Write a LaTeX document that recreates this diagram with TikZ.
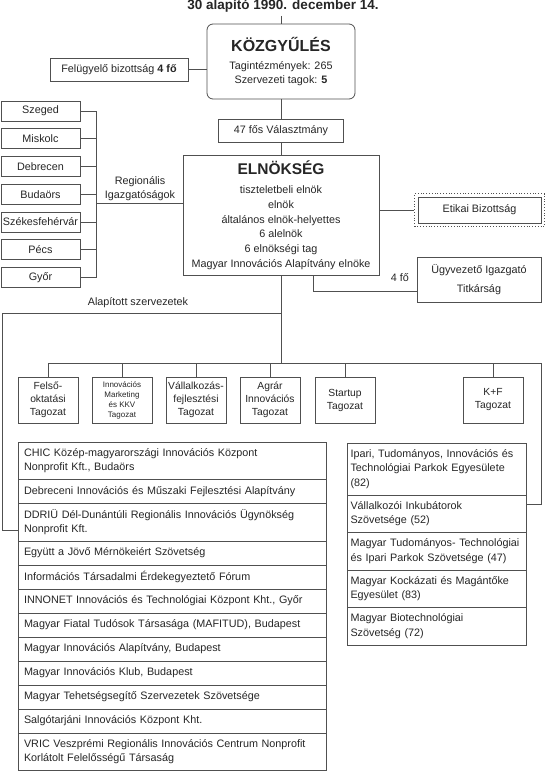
\documentclass[tikz,border=0pt]{standalone}
\usepackage{fontspec}
\setmainfont{Liberation Sans}
\usepackage{tikz}
\usetikzlibrary{positioning, fit}

\definecolor{linegray}{HTML}{505050}
\definecolor{textgray}{HTML}{262626}

\begin{document}
\begin{tikzpicture}[
    x=1pt, y=-1pt,
    every node/.style={text=textgray},
    box/.style={rectangle, draw=linegray, line width=0.8pt, fill=white, align=center, inner sep=1pt, font=\fontsize{10.8}{14.7}\selectfont},
    city/.style={box, minimum width=79pt, minimum height=20pt},
    tag/.style={box, minimum width=60pt, minimum height=46pt, font=\fontsize{10.3}{13}\selectfont},
    lrow/.style={rectangle, draw=linegray, line width=0.8pt, outer sep=0pt, align=left, inner xsep=6pt, inner ysep=0pt, text width=296pt, minimum height=24pt, font=\fontsize{10.8}{14.5}\selectfont},
    rrow/.style={lrow, inner xsep=3.5pt, text width=172pt},
    tall/.style={minimum height=37.5pt},
    conn/.style={draw=linegray, line width=0.8pt},
    lbl/.style={font=\fontsize{10.8}{14}\selectfont, align=center}
]
\useasboundingbox[fill=white] (0,0) rectangle (544,779);

% top
\node[font=\fontsize{13.5}{16}\selectfont\bfseries] (title) at (283,6) {30 alapító 1990. december 14.};
\node[box, rounded corners=6pt, minimum width=148pt, minimum height=75pt] (kozgy) at (281,61.5)
    {{\fontsize{16}{20}\selectfont\bfseries KÖZGYŰLÉS}\\[3.5pt]Tagintézmények: 265\\Szervezeti tagok: \textbf{5}};
\node[box, minimum width=138pt, minimum height=23pt] (felugy) at (119,69.5) {Felügyelő bizottság \textbf{4 fő}};
\node[box, minimum width=125pt, minimum height=23.5pt] (valaszt) at (281,131) {47 fős Választmány};
\node[box, minimum width=196pt, minimum height=120pt] (elnok) at (281,215)
    {{\fontsize{15.5}{18}\selectfont\bfseries ELNÖKSÉG}\\[4.5pt]tiszteletbeli elnök\\elnök\\általános elnök-helyettes\\6 alelnök\\6 elnökségi tag\\Magyar Innovációs Alapítvány elnöke};

\draw[conn] (kozgy.north |- title.south) -- (kozgy.north);
\draw[conn] (felugy.east) -- (felugy.east -| kozgy.west);
\draw[conn] (kozgy.south) -- (valaszt.north);
\draw[conn] (valaszt.south) -- (elnok.north);

% regionalis igazgatosagok
\coordinate (regbus) at (96,203);
\foreach \cname [count=\i] in {Szeged, Miskolc, Debrecen, Budaörs, Székesfehérvár, Pécs, Győr}
    \node[city] (c\i) at (40.5, 83.25+27.75*\i) {\cname};
\foreach \i in {1,...,7}
    \draw[conn] (c\i.east) -- (c\i.east -| regbus);
\draw[conn] (c1.east -| regbus) -- (c7.east -| regbus);
\draw[conn] (regbus) -- (regbus -| elnok.west);
\node[lbl] (reglbl) at (140,189) {Regionális\\Igazgatóságok};

% right side
\node[box, minimum width=123pt, minimum height=26pt] (etikai) at (479.5,210) {Etikai Bizottság};
\node[draw=linegray, dotted, line width=0.8pt, fit=(etikai), inner sep=3pt] (etikaifr) {};
\draw[conn] (etikaifr.west) -- (etikaifr.west -| elnok.east);

\node[box, minimum width=124pt, minimum height=45pt, font=\fontsize{10.8}{19}\selectfont] (ugyv) at (479,279.5) {Ügyvezető Igazgató\\Titkárság};
\coordinate (ugybend) at (313,291);
\draw[conn] (ugybend |- elnok.south) -- (ugybend) -- (ugybend -| ugyv.west);
\node[lbl] (negyfo) at (400,278) {4 fő};

% tagozatok
\coordinate (alapbus) at (281,313);
\coordinate (alapcorner) at (2,313);
\coordinate (alapend) at (2,530);
\coordinate (tagbus) at (281,363);
\coordinate (tagright) at (541,363);
\coordinate (rightend) at (541,504);
\draw[conn] (elnok.south) -- (tagbus);
\node[lbl] (alaplbl) at (138,303) {Alapított szervezetek};

\node[tag] (t1) at (48,400) {Felső-\\oktatási\\Tagozat};
\node[tag, font=\fontsize{8}{10}\selectfont] (t2) at (122,400) {Innovációs\\Marketing\\és KKV\\Tagozat};
\node[tag] (t3) at (196,400) {Vállalkozás-\\fejlesztési\\Tagozat};
\node[tag] (t4) at (270,400) {Agrár\\Innovációs\\Tagozat};
\node[tag] (t5) at (345,400) {Startup\\Tagozat};
\node[tag] (t6) at (493,400) {K+F\\Tagozat};

\draw[conn] (t1.north |- tagbus) -- (tagright);
\foreach \t in {t1,t2,t3,t4,t5,t6}
    \draw[conn] (\t.north) -- (\t.north |- tagbus);

% alapitott szervezetek
\node[lrow, tall, anchor=north west] (l1) at (18,442) {CHIC Közép-magyarországi Innovációs Központ\\Nonprofit Kft., Budaörs};
\node[lrow, below=0pt of l1] (l2) {Debreceni Innovációs és Műszaki Fejlesztési Alapítvány};
\node[lrow, tall, below=0pt of l2] (l3) {DDRIÜ Dél-Dunántúli Regionális Innovációs Ügynökség\\Nonprofit Kft.};
\node[lrow, below=0pt of l3] (l4) {Együtt a Jövő Mérnökeiért Szövetség};
\node[lrow, below=0pt of l4] (l5) {Információs Társadalmi Érdekegyeztető Fórum};
\node[lrow, below=0pt of l5] (l6) {INNONET Innovációs és Technológiai Központ Kht., Győr};
\node[lrow, below=0pt of l6] (l7) {Magyar Fiatal Tudósok Társasága (MAFITUD), Budapest};
\node[lrow, below=0pt of l7] (l8) {Magyar Innovációs Alapítvány, Budapest};
\node[lrow, below=0pt of l8] (l9) {Magyar Innovációs Klub, Budapest};
\node[lrow, below=0pt of l9] (l10) {Magyar Tehetségsegítő Szervezetek Szövetsége};
\node[lrow, below=0pt of l10] (l11) {Salgótarjáni Innovációs Központ Kht.};
\node[lrow, tall, below=0pt of l11] (l12) {VRIC Veszprémi Regionális Innovációs Centrum Nonprofit\\Korlátolt Felelősségű Társaság};

\draw[conn] (alapbus) -- (alapcorner) -- (alapend) -- (alapend -| l3.west);

\node[rrow, anchor=north west, minimum height=52pt] (r1) at (347,443) {Ipari, Tudományos, Innovációs és\\Technológiai Parkok Egyesülete\\(82)};
\node[rrow, tall, below=0pt of r1] (r2) {Vállalkozói Inkubátorok\\Szövetsége (52)};
\node[rrow, tall, below=0pt of r2] (r3) {Magyar Tudományos- Technológiai\\és Ipari Parkok Szövetsége (47)};
\node[rrow, tall, below=0pt of r3] (r4) {Magyar Kockázati és Magántőke\\Egyesület (83)};
\node[rrow, tall, below=0pt of r4] (r5) {Magyar Biotechnológiai\\Szövetség (72)};

\draw[conn] (tagright) -- (rightend) -- (rightend -| r2.east);

\end{tikzpicture}
\end{document}
